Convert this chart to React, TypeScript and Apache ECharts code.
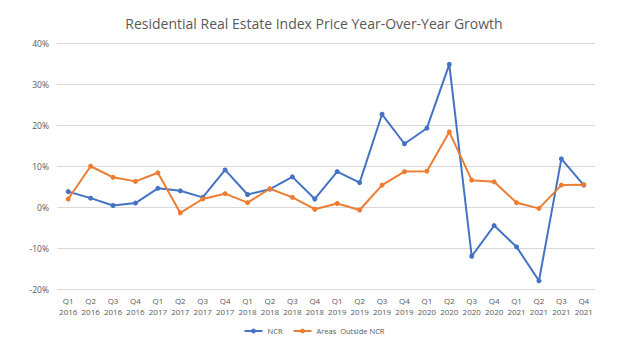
import React, { useEffect, useRef } from "react";
import * as echarts from "echarts";

const categories = [
  "Q1\n2016", "Q2\n2016", "Q3\n2016", "Q4\n2016",
  "Q1\n2017", "Q2\n2017", "Q3\n2017", "Q4\n2017",
  "Q1\n2018", "Q2\n2018", "Q3\n2018", "Q4\n2018",
  "Q1\n2019", "Q2\n2019", "Q3\n2019", "Q4\n2019",
  "Q1\n2020", "Q2\n2020", "Q3\n2020", "Q4\n2020",
  "Q1\n2021", "Q2\n2021", "Q3\n2021", "Q4\n2021",
];

const ncr = [
  3.8, 2.2, 0.4, 1.0,
  4.6, 4.0, 2.4, 9.1,
  3.1, 4.4, 7.4, 2.0,
  8.7, 6.0, 22.7, 15.5,
  19.3, 34.9, -12.0, -4.5,
  -9.7, -18.0, 11.8, 5.4,
];

const outside = [
  2.0, 10.0, 7.3, 6.3,
  8.4, -1.4, 2.0, 3.3,
  1.1, 4.5, 2.4, -0.5,
  0.9, -0.7, 5.4, 8.7,
  8.8, 18.4, 6.6, 6.2,
  1.1, -0.3, 5.4, 5.5,
];

const seriesNames = ["NCR", "Areas  Outside NCR"];
const titleText = "Residential Real Estate Index Price Year-Over-Year Growth";

export default function App() {
  const ref = useRef<HTMLDivElement>(null);
  useEffect(() => {
    if (!ref.current) return;
    const chart = echarts.init(ref.current, null, { renderer: "svg" });
    const font = "Open Sans, Noto Sans, sans-serif";
    chart.setOption({
      animation: false,
      backgroundColor: "#ffffff",
      title: {
        text: titleText,
        left: "center",
        top: 11,
        textStyle: { fontSize: 14, fontWeight: "normal", color: "#595959", fontFamily: font },
      },
      legend: {
        bottom: 23,
        left: "center",
        itemWidth: 18,
        itemHeight: 6,
        itemGap: 10,
        textStyle: { fontSize: 7.5, color: "#595959", fontFamily: font },
        data: seriesNames,
      },
      grid: { left: 57, right: 33, top: 43.5, bottom: 74 },
      xAxis: {
        type: "category",
        data: categories,
        boundaryGap: true,
        axisLine: { show: false },
        axisTick: { show: false },
        axisLabel: { fontSize: 8, color: "#595959", fontFamily: font, lineHeight: 11, margin: 6, interval: 0 },
      },
      yAxis: {
        type: "value",
        min: -20,
        max: 40,
        interval: 10,
        axisLine: { show: false },
        axisTick: { show: false },
        axisLabel: { formatter: "{value}%", fontSize: 8.5, color: "#595959", fontFamily: font, margin: 8 },
        splitLine: { lineStyle: { color: "#d9d9d9", width: 1 } },
      },
      series: [
        {
          name: seriesNames[0],
          type: "line",
          data: ncr,
          color: "#4472C4",
          symbol: "circle",
          symbolSize: 5,
          lineStyle: { width: 2 },
        },
        {
          name: seriesNames[1],
          type: "line",
          data: outside,
          color: "#ED7D31",
          symbol: "circle",
          symbolSize: 5,
          lineStyle: { width: 2 },
        },
      ],
    });
    return () => chart.dispose();
  }, []);
  return <div ref={ref} style={{ width: 628, height: 363, position: "absolute", left: 0, top: 0 }} />;
}
